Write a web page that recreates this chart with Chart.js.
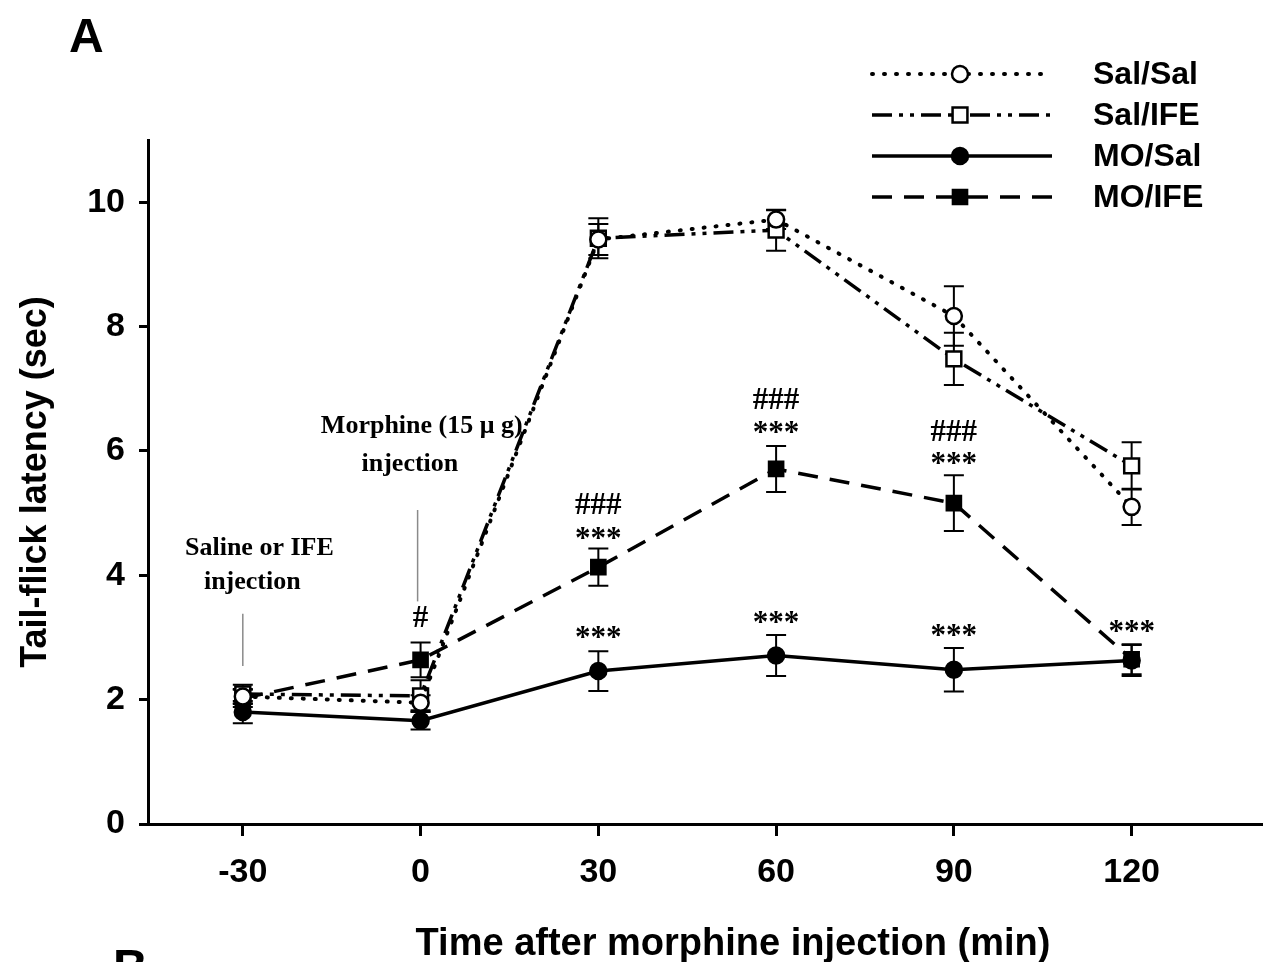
<!DOCTYPE html>
<html>
<head>
<meta charset="utf-8">
<title>Tail-flick latency</title>
<script src="https://cdn.jsdelivr.net/npm/chart.js@4.4.1/dist/chart.umd.min.js"></script>
<style>
  body { margin: 0; background: #fff; }
  #marco { position: relative; width: 1264px; height: 962px; overflow: hidden; background: #fff; }
</style>
</head>
<body>
<div id="marco"><canvas id="grafica" width="1264" height="962"></canvas></div>
<script>
// tiempos (min) y latencias medias (sec)
const tiempos = [-30, 0, 30, 60, 90, 120];
const salSal = [2.05, 1.95, 9.4, 9.72, 8.17, 5.1];
const salSalErr = [0.12, 0.12, 0.25, 0.15, 0.48, 0.29];
const salIfe = [2.09, 2.06, 9.42, 9.55, 7.48, 5.76];
const salIfeErr = [0.15, 0.25, 0.32, 0.33, 0.42, 0.38];
const moSal = [1.8, 1.66, 2.46, 2.71, 2.48, 2.63];
const moSalErr = [0.18, 0.14, 0.32, 0.33, 0.35, 0.25];
const moIfe = [2.02, 2.64, 4.13, 5.71, 5.16, 2.65];
const moIfeErr = [0.14, 0.28, 0.3, 0.37, 0.45, 0.24];

const ticksX = [-30, 0, 30, 60, 90, 120];
const ticksY = [0, 2, 4, 6, 8, 10];

// marcas de significancia: tiempo, nivel (sec), texto
const marcaTiempo = [0, 30, 30, 30, 60, 60, 60, 90, 90, 90, 120];
const marcaNivel = [3.34, 5.16, 4.69, 3.09, 6.85, 6.4, 3.34, 6.33, 5.9, 3.13, 3.2];
const marcaTexto = ['#', '###', '***', '***', '###', '***', '***', '###', '***', '***', '***'];

// notas de inyeccion
const notaTexto = ['Saline or IFE', 'injection', 'Morphine (15 \u03bc g)', 'injection'];
const notaX = [-27.2, -28.4, 0.2, -1.8];
const notaY = [4.44, 3.89, 6.4, 5.79];
const flechaX = [-30, -0.5];
const flechaDesde = [3.38, 5.05];
const flechaHasta = [2.54, 3.58];

const nombres = ['Sal/Sal', 'Sal/IFE', 'MO/Sal', 'MO/IFE'];
const tituloX = 'Time after morphine injection (min)';

const FUENTE = "'Liberation Sans', Arial, sans-serif";
const SERIF = "'Liberation Serif', 'Times New Roman', serif";

function puntos(valores) {
    return valores.map((v, i) => ({ x: tiempos[i], y: v }));
}

function dibujarMarcador(ctx, estilo, x, y, r, relleno) {
    ctx.save();
    ctx.beginPath();
    if (estilo === 'circle') {
        ctx.arc(x, y, r, 0, Math.PI * 2);
    } else {
        const s = r * Math.SQRT1_2;
        ctx.rect(x - s, y - s, 2 * s, 2 * s);
    }
    ctx.fillStyle = relleno;
    ctx.fill();
    ctx.lineWidth = 2.5;
    ctx.strokeStyle = '#000';
    ctx.stroke();
    ctx.restore();
}

const barrasError = {
    id: 'barrasError',
    beforeDatasetsDraw(chart) {
        const ctx = chart.ctx;
        const ex = chart.scales.x, ey = chart.scales.y;
        ctx.save();
        ctx.strokeStyle = '#000';
        ctx.lineWidth = 2;
        chart.data.datasets.forEach(ds => {
            ds.data.forEach((p, i) => {
                const px = ex.getPixelForValue(p.x);
                const arriba = ey.getPixelForValue(p.y + ds.errores[i]);
                const abajo = ey.getPixelForValue(p.y - ds.errores[i]);
                ctx.beginPath();
                ctx.moveTo(px, arriba); ctx.lineTo(px, abajo);
                ctx.moveTo(px - 10, arriba); ctx.lineTo(px + 10, arriba);
                ctx.moveTo(px - 10, abajo); ctx.lineTo(px + 10, abajo);
                ctx.stroke();
            });
        });
        ctx.restore();
    }
};

const anotaciones = {
    id: 'anotaciones',
    afterDraw(chart) {
        const ctx = chart.ctx;
        const ex = chart.scales.x, ey = chart.scales.y;
        ctx.save();
        ctx.fillStyle = '#000';

        // asteriscos y almohadillas
        ctx.font = 'bold 31px ' + SERIF;
        ctx.textAlign = 'center';
        ctx.textBaseline = 'alphabetic';
        marcaTexto.forEach((t, i) => {
            const k = t.charAt(0) === '*' ? 0.5 : 0.34;
            ctx.fillText(t, ex.getPixelForValue(marcaTiempo[i]), ey.getPixelForValue(marcaNivel[i]) + k * 31);
        });

        // notas
        ctx.font = 'bold 26px ' + SERIF;
        ctx.textBaseline = 'middle';
        notaTexto.forEach((t, i) => {
            ctx.fillText(t, ex.getPixelForValue(notaX[i]), ey.getPixelForValue(notaY[i]));
        });
        ctx.strokeStyle = '#8a8a8a';
        ctx.lineWidth = 1.5;
        flechaX.forEach((fx, i) => {
            const px = ex.getPixelForValue(fx);
            ctx.beginPath();
            ctx.moveTo(px, ey.getPixelForValue(flechaDesde[i]));
            ctx.lineTo(px, ey.getPixelForValue(flechaHasta[i]));
            ctx.stroke();
        });

        // titulo del eje x
        ctx.font = 'bold 38px ' + FUENTE;
        ctx.textAlign = 'center';
        ctx.textBaseline = 'alphabetic';
        ctx.fillText(tituloX, 733, 955);

        // leyenda
        chart.data.datasets.forEach((ds, i) => {
            const yy = 74 + i * 41;
            ctx.save();
            ctx.strokeStyle = '#000';
            ctx.lineWidth = ds.borderWidth;
            ctx.lineCap = ds.borderCapStyle || 'butt';
            ctx.setLineDash(ds.borderDash || []);
            ctx.beginPath();
            ctx.moveTo(872, yy);
            ctx.lineTo(1052, yy);
            ctx.stroke();
            ctx.restore();
            dibujarMarcador(ctx, ds.pointStyle, 960, yy, ds.pointRadius, ds.pointBackgroundColor);
            ctx.font = 'bold 32px ' + FUENTE;
            ctx.textAlign = 'left';
            ctx.textBaseline = 'middle';
            ctx.fillStyle = '#000';
            ctx.fillText(nombres[i], 1093, yy + 1);
        });

        // letras de panel
        ctx.font = 'bold 48px ' + FUENTE;
        ctx.textAlign = 'left';
        ctx.textBaseline = 'alphabetic';
        ctx.fillText('A', 69, 52);
        ctx.fillText('B', 113, 983);
        ctx.restore();
    }
};

const ctx = document.getElementById('grafica').getContext('2d');
new Chart(ctx, {
    type: 'line',
    data: {
        datasets: [
            {
                label: nombres[0], data: puntos(salSal), errores: salSalErr,
                borderColor: '#000', borderWidth: 4, borderDash: [1, 11], borderCapStyle: 'round',
                pointStyle: 'circle', pointRadius: 8, pointBackgroundColor: '#fff',
                pointBorderColor: '#000', pointBorderWidth: 2.5, tension: 0
            },
            {
                label: nombres[1], data: puntos(salIfe), errores: salIfeErr,
                borderColor: '#000', borderWidth: 3.5, borderDash: [20, 7, 4, 7, 4, 7],
                pointStyle: 'rect', pointRadius: 10.5, pointBackgroundColor: '#fff',
                pointBorderColor: '#000', pointBorderWidth: 2.5, tension: 0
            },
            {
                label: nombres[2], data: puntos(moSal), errores: moSalErr,
                borderColor: '#000', borderWidth: 3.5,
                pointStyle: 'circle', pointRadius: 8, pointBackgroundColor: '#000',
                pointBorderColor: '#000', pointBorderWidth: 2.5, tension: 0
            },
            {
                label: nombres[3], data: puntos(moIfe), errores: moIfeErr,
                borderColor: '#000', borderWidth: 3.5, borderDash: [20, 12],
                pointStyle: 'rect', pointRadius: 10, pointBackgroundColor: '#000',
                pointBorderColor: '#000', pointBorderWidth: 2.5, tension: 0
            }
        ]
    },
    options: {
        responsive: false,
        animation: false,
        events: [],
        layout: { autoPadding: false, padding: { top: 140, right: 2, left: 0, bottom: 0 } },
        plugins: { legend: { display: false }, tooltip: { enabled: false } },
        scales: {
            x: {
                type: 'linear', min: -46, max: 142,
                afterBuildTicks: s => { s.ticks = ticksX.map(v => ({ value: v })); },
                afterFit: s => { s.height = 138; s.paddingLeft = 0; s.paddingRight = 0; },
                grid: { drawOnChartArea: false, drawTicks: true, tickLength: 12, tickWidth: 3, tickColor: '#000', color: '#000' },
                border: { display: true, color: '#000', width: 3 },
                ticks: { color: '#000', padding: 16, font: { family: FUENTE, size: 34, weight: 'bold' } },
                title: { display: false, text: tituloX }
            },
            y: {
                min: 0, max: 11,
                afterBuildTicks: s => { s.ticks = ticksY.map(v => ({ value: v })); },
                afterFit: s => { s.width = 148; s.paddingTop = 0; s.paddingBottom = 0; },
                grid: { drawOnChartArea: false, drawTicks: true, tickLength: 9, tickWidth: 3, tickColor: '#000', color: '#000' },
                border: { display: true, color: '#000', width: 3 },
                ticks: { color: '#000', padding: 14, font: { family: FUENTE, size: 34, weight: 'bold' } },
                title: {
                    display: true, text: 'Tail-flick latency (sec)', color: '#000',
                    padding: { top: 18, bottom: 0 },
                    font: { family: FUENTE, size: 36, weight: 'bold', lineHeight: 1 }
                }
            }
        }
    },
    plugins: [barrasError, anotaciones]
});
</script>
</body>
</html>
